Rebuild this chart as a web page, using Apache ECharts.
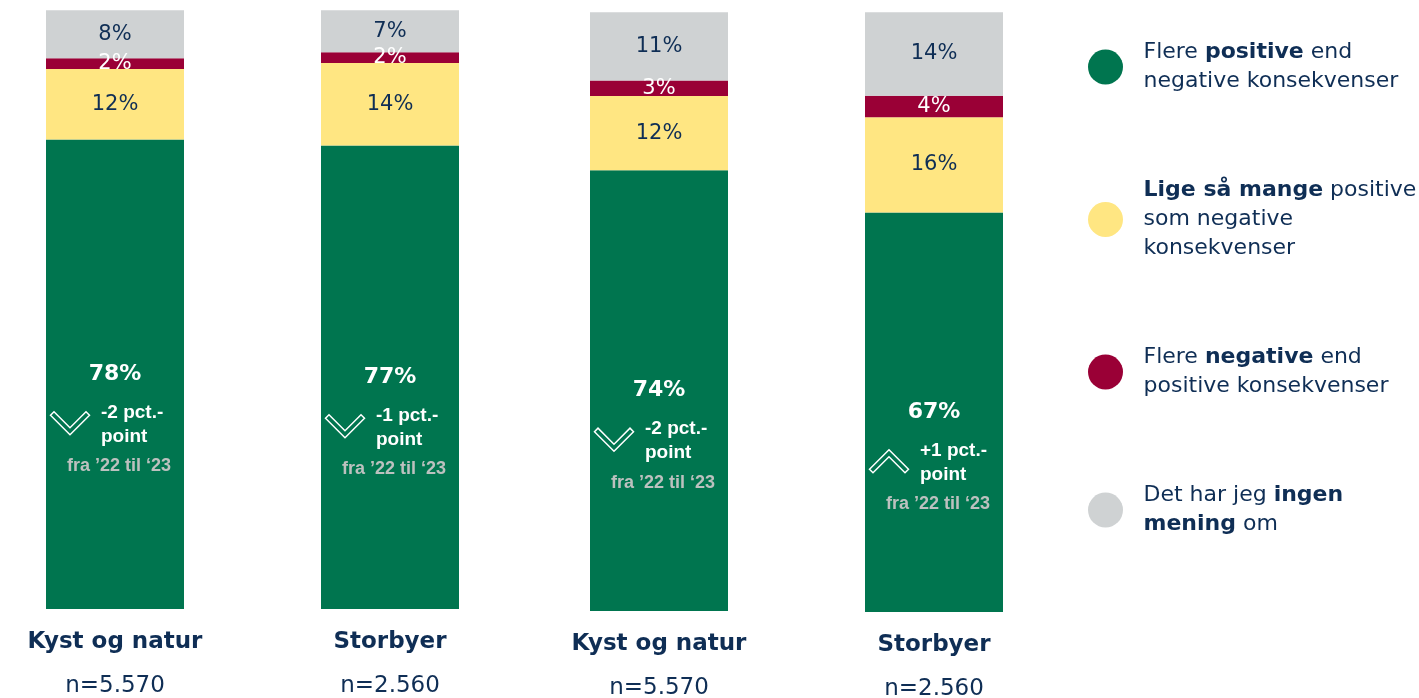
<!DOCTYPE html>
<html><head><meta charset="utf-8">
<script src="https://cdn.jsdelivr.net/npm/echarts@6/dist/echarts.min.js"></script>
<style>html,body{margin:0;padding:0;background:#fff}#c{width:1419px;height:698px}</style>
</head><body><div id="c"></div>
<script>
// ---- data ----
const categories = ['Kyst og natur', 'Storbyer', 'Kyst og natur', 'Storbyer'];
const sampleSizes = ['n=5.570', 'n=2.560', 'n=5.570', 'n=2.560'];
const seriesNames = [
  'Flere positive end negative konsekvenser',
  'Lige så mange positive som negative konsekvenser',
  'Flere negative end positive konsekvenser',
  'Det har jeg ingen mening om'
];
const positive  = [78.4, 77.4, 73.6, 66.6];
const equal     = [11.8, 13.8, 12.4, 15.9];
const negative  = [1.8, 1.8, 2.6, 3.6];
const noOpinion = [8.0, 7.0, 11.4, 13.9];
const changePts = [-2, -1, -2, 1];
const changeNote = 'fra ’22 til ‘23';

// ---- styling ----
const NAVY = '#0F2E55';
const colors = ['#00754F', '#FFE682', '#9A0036', '#CFD2D3'];
const labelColors = ['#FFFFFF', NAVY, '#FFFFFF', NAVY];
const FONT = 'DejaVu Sans';
const legendRich = {
  'Flere positive end negative konsekvenser': 'Flere {b|positive} end\nnegative konsekvenser',
  'Lige så mange positive som negative konsekvenser': '{b|Lige så mange} positive\nsom negative\nkonsekvenser',
  'Flere negative end positive konsekvenser': 'Flere {b|negative} end\npositive konsekvenser',
  'Det har jeg ingen mening om': 'Det har jeg {b|ingen}\n{b|mening} om'
};
const gridBoxes = [
  {left: 46, top: 10.3, height: 598.7},
  {left: 321, top: 10.3, height: 598.7},
  {left: 590, top: 12.3, height: 598.7},
  {left: 865, top: 12.3, height: 599.7}
];
const values = [positive, equal, negative, noOpinion];

const chart = echarts.init(document.getElementById('c'), null, {renderer: 'canvas'});

const grid = [], xAxis = [], yAxis = [], series = [];
gridBoxes.forEach((b, i) => {
  grid.push({left: b.left, top: b.top, width: 138, height: b.height,
    containLabel: false, outerBoundsMode: 'none'});
  xAxis.push({
    type: 'category', gridIndex: i, data: [categories[i]],
    axisLine: {show: false}, axisTick: {show: false}, splitLine: {show: false},
    axisLabel: {
      margin: 11, interval: 0,
      formatter: v => '{c|' + v + '}\n{n|' + sampleSizes[i] + '}',
      rich: {
        c: {fontFamily: FONT, fontSize: 23, fontWeight: 'bold', color: NAVY, lineHeight: 44},
        n: {fontFamily: FONT, fontSize: 23, color: NAVY, lineHeight: 44}
      }
    }
  });
  yAxis.push({type: 'value', gridIndex: i, min: 0, max: 100, show: false, splitLine: {show: false}});
  values.forEach((arr, k) => {
    series.push({
      type: 'bar', name: seriesNames[k], xAxisIndex: i, yAxisIndex: i,
      stack: 's' + i, barWidth: '100%', data: [arr[i]],
      itemStyle: {color: colors[k]},
      emphasis: {disabled: true},
      label: {
        show: true, position: 'inside',
        formatter: p => Math.round(p.value) + '%',
        color: labelColors[k], fontFamily: FONT,
        fontSize: k === 0 ? 22 : 21, fontWeight: k === 0 ? 'bold' : 'normal'
      }
    });
  });
});

chart.setOption({
  animation: false,
  grid, xAxis, yAxis, series,
  legend: {
    orient: 'vertical', left: 1083, top: 33,
    icon: 'circle', itemWidth: 66, itemHeight: 35, itemGap: 80,
    selectedMode: false,
    data: seriesNames,
    formatter: name => legendRich[name],
    textStyle: {
      fontFamily: FONT, fontSize: 22, lineHeight: 29, color: NAVY,
      rich: {b: {fontFamily: FONT, fontSize: 22, lineHeight: 29, fontWeight: 'bold', color: NAVY}}
    }
  }
});

// annotations inside the green segments, positioned via the chart's own scales
const graphics = [];
gridBoxes.forEach((b, i) => {
  let pt;
  try {
    pt = chart.convertToPixel({xAxisIndex: i, yAxisIndex: i}, [0, positive[i] / 2]);
  } catch (e) { pt = null; }
  if (!pt || isNaN(pt[0]) || isNaN(pt[1])) {
    const yScale = b.height / 100;
    pt = [b.left + 69, b.top + b.height - positive[i] / 2 * yScale];
  }
  const cx = pt[0], cy = pt[1];
  const s = changePts[i] > 0 ? -1 : 1;
  const ax = cx - 45, ay = cy + 49;
  const pts = [[-19.5, -8], [0, 11.5], [19.5, -8], [16, -11.5], [0, 4.5], [-16, -11.5]]
    .map(p => [ax + p[0], ay + s * p[1]]);
  graphics.push({
    type: 'polygon', shape: {points: pts}, silent: true, z: 100,
    style: {fill: 'rgba(0,0,0,0)', stroke: '#FFFFFF', lineWidth: 1.5}
  });
  const sign = changePts[i] > 0 ? '+' : '';
  graphics.push({
    type: 'text', silent: true, z: 100, x: cx - 14, y: cy + 50,
    style: {
      text: sign + changePts[i] + ' pct.-\npoint', fill: '#FFFFFF',
      fontFamily: 'Liberation Sans', fontSize: 19, fontWeight: 'bold',
      lineHeight: 24, align: 'left', verticalAlign: 'middle'
    }
  });
  graphics.push({
    type: 'text', silent: true, z: 100, x: cx + 4, y: cy + 92,
    style: {
      text: changeNote, fill: '#BCC1BF',
      fontFamily: 'Liberation Sans', fontSize: 18, fontWeight: 'bold',
      align: 'center', verticalAlign: 'middle'
    }
  });
});
chart.setOption({graphic: {elements: graphics}});
</script>
</body></html>
